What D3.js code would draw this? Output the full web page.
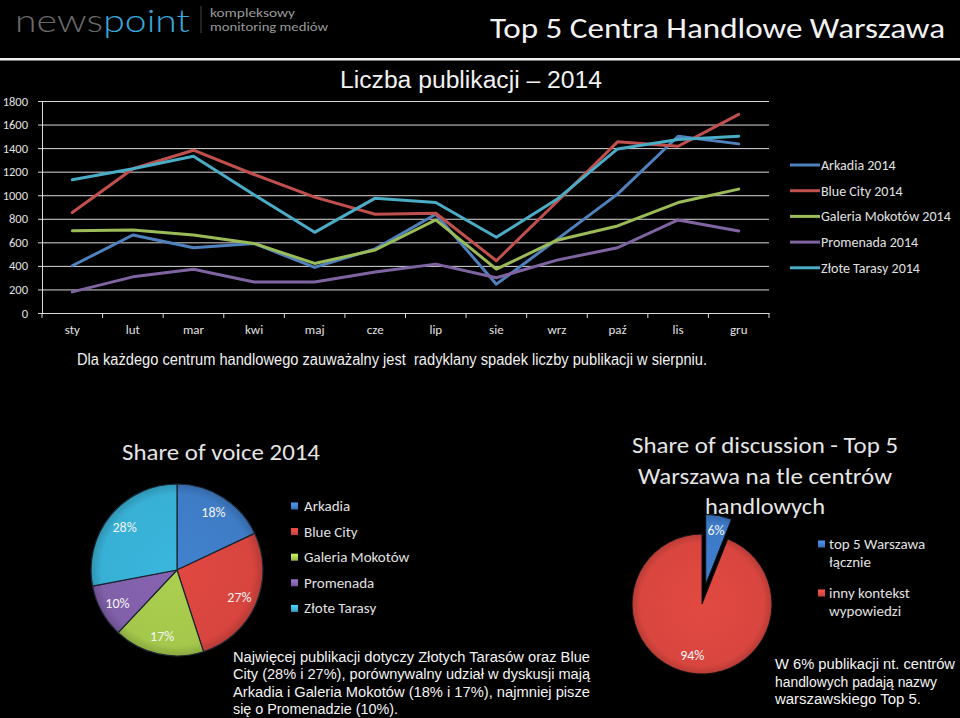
<!DOCTYPE html>
<html>
<head>
<meta charset="utf-8">
<script src="https://cdn.jsdelivr.net/npm/d3@7"></script>
<style>
  html, body { margin: 0; padding: 0; background: #000; }
  svg { display: block; }
</style>
</head>
<body>
<svg id="chart" width="960" height="718"></svg>
<script>
// ---------- DATA ----------
const months = ["sty","lut","mar","kwi","maj","cze","lip","sie","wrz","paź","lis","gru"];
const yTicks = [0,200,400,600,800,1000,1200,1400,1600,1800];
const seriesNames = ["Arkadia 2014","Blue City 2014","Galeria Mokotów 2014","Promenada 2014","Złote Tarasy 2014"];
const arkadia   = [401, 662, 554, 591, 387, 545, 839, 245, 625, 1009, 1501, 1436];
const blueCity  = [853, 1225, 1382, 1176, 984, 839, 847, 444, 945, 1453, 1416, 1686];
const galeria   = [699, 705, 662, 591, 421, 535, 790, 372, 618, 739, 938, 1052];
const promenada = [179, 307, 372, 264, 264, 348, 415, 299, 449, 554, 790, 697];
const zlote     = [1132, 1225, 1331, 1004, 685, 975, 938, 643, 965, 1393, 1473, 1501];
const lineColors = ["#4F81BD","#C0504D","#9BBB59","#8064A2","#4BACC6"];

const voiceNames  = ["Arkadia","Blue City","Galeria Mokotów","Promenada","Złote Tarasy"];
const voiceValues = [18, 27, 17, 10, 28];
const voiceColors = ["#3f7cc6","#d8453f","#a5c84c","#8160aa","#38b0d5"];

const discNames  = [["top 5 Warszawa","łącznie"],["inny kontekst","wypowiedzi"]];
const discValues = [6, 94];
const discColors = ["#3d7ac8","#d9463f"];

const lineCaption = "Dla każdego centrum handlowego zauważalny jest  radyklany spadek liczby publikacji w sierpniu.";
const voiceText = ["Najwięcej publikacji dotyczy Złotych Tarasów oraz Blue",
                   "City (28% i 27%), porównywalny udział w dyskusji mają",
                   "Arkadia i Galeria Mokotów (18% i 17%), najmniej pisze",
                   "się o Promenadzie (10%)."];
const discText = ["W 6% publikacji nt. centrów","handlowych padają nazwy","warszawskiego Top 5."];
const discTitle = ["Share of discussion - Top 5","Warszawa na tle centrów","handlowych"];

// ---------- SETUP ----------
const svg = d3.select("#chart");
const CAL = "Carlito, Lato, 'Open Sans', sans-serif";
const ARI = "'Liberation Sans', Arial, sans-serif";
const defs = svg.append("defs");
svg.append("rect").attr("width",960).attr("height",718).attr("fill","#000");

// ---------- HEADER ----------
const logo = svg.append("text").attr("x",15).attr("y",32)
  .style("font-family","Lato, sans-serif").style("font-weight",300).style("font-size","32px")
  .attr("textLength",175).attr("lengthAdjust","spacingAndGlyphs");
logo.append("tspan").attr("fill","#6a6a6a").text("news");
logo.append("tspan").attr("fill","#3aa7de").text("point");
svg.append("line").attr("x1",201).attr("x2",201).attr("y1",6).attr("y2",33)
  .attr("stroke","#444").attr("stroke-width",1);
svg.append("text").attr("x",210).attr("y",17).attr("fill","#9a9a9a")
  .style("font-family",CAL).style("font-size","12px")
  .attr("textLength",85).attr("lengthAdjust","spacingAndGlyphs").text("kompleksowy");
svg.append("text").attr("x",210).attr("y",31).attr("fill","#9a9a9a")
  .style("font-family",CAL).style("font-size","12px")
  .attr("textLength",118).attr("lengthAdjust","spacingAndGlyphs").text("monitoring mediów");
svg.append("text").attr("x",490).attr("y",38).attr("fill","#f2f2f2")
  .style("font-family",CAL).style("font-size","29px")
  .attr("textLength",455).attr("lengthAdjust","spacingAndGlyphs")
  .text("Top 5 Centra Handlowe Warszawa");
svg.append("rect").attr("x",0).attr("y",58).attr("width",960).attr("height",2.5).attr("fill","#f0f0f0");

// ---------- LINE CHART ----------
svg.append("text").attr("x",340).attr("y",88).attr("fill","#f2f2f2")
  .style("font-family",ARI).style("font-size","23px")
  .attr("textLength",262).attr("lengthAdjust","spacingAndGlyphs")
  .text("Liczba publikacji – 2014");

const x = d3.scaleBand().domain(months).range([42, 769]).padding(0);
const y = d3.scaleLinear().domain([0,1800]).range([313, 101]);

// gridlines
const grid = svg.append("g").attr("transform","translate(42,0)")
  .call(d3.axisLeft(y).tickValues(yTicks).tickSize(-(769-42)).tickFormat(""));
grid.select(".domain").remove();
grid.selectAll(".tick line").attr("stroke","#d9d9d9").attr("stroke-width",1);

// y axis
const yAx = svg.append("g").attr("transform","translate(42,0)")
  .call(d3.axisLeft(y).tickValues(yTicks).tickSize(4).tickPadding(10).tickFormat(d3.format("d")));
yAx.select(".domain").attr("stroke","#d9d9d9");
yAx.selectAll(".tick line").attr("stroke","#d9d9d9");
yAx.selectAll(".tick text").attr("fill","#e0e0e0").style("font-family",CAL).style("font-size","12.5px");

// x axis
const xAx = svg.append("g").attr("transform","translate(0,313)")
  .call(d3.axisBottom(x).tickSize(0).tickPadding(12));
xAx.select(".domain").attr("stroke","#d9d9d9");
xAx.selectAll(".tick text").attr("fill","#e0e0e0").style("font-family",CAL).style("font-size","13px");
const edges = months.map(m => x(m)).concat([x(months[months.length-1]) + x.bandwidth()]);
svg.append("g").selectAll("line").data(edges).join("line")
  .attr("x1",d=>d).attr("x2",d=>d).attr("y1",313).attr("y2",318)
  .attr("stroke","#d9d9d9");

const allSeries = [arkadia, blueCity, galeria, promenada, zlote];
const lineGen = d3.line().x((d,i)=>x(months[i]) + x.bandwidth()/2).y(d=>y(d));
svg.append("g").selectAll("path").data(allSeries).join("path")
  .attr("d", d=>lineGen(d)).attr("fill","none")
  .attr("stroke",(d,i)=>lineColors[i]).attr("stroke-width",3)
  .attr("stroke-linejoin","round").attr("stroke-linecap","round");

// legend
const lg = svg.append("g");
seriesNames.forEach((n,i)=>{
  const yy = 165 + i*25.7;
  lg.append("line").attr("x1",790).attr("x2",820).attr("y1",yy).attr("y2",yy)
    .attr("stroke",lineColors[i]).attr("stroke-width",3);
  lg.append("text").attr("x",821).attr("y",yy+5).attr("fill","#e0e0e0")
    .style("font-family",CAL).style("font-size","14px").text(n);
});

svg.append("text").attr("x",77).attr("y",365).attr("fill","#f0f0f0")
  .style("font-family","'Liberation Sans Narrow', " + ARI).style("font-size","16px")
  .attr("textLength",630).attr("lengthAdjust","spacingAndGlyphs")
  .attr("xml:space","preserve")
  .text(lineCaption);

// ---------- GRADIENTS (centred at 0,0 of each pie group) ----------
function sliceGrad(id, color, r){
  const g = defs.append("radialGradient").attr("id",id)
    .attr("gradientUnits","userSpaceOnUse").attr("cx",0).attr("cy",0).attr("r",r);
  const c = d3.color(color);
  g.append("stop").attr("offset","0%").attr("stop-color",c.brighter(0.1));
  g.append("stop").attr("offset","88%").attr("stop-color",c);
  g.append("stop").attr("offset","100%").attr("stop-color",c.darker(0.5));
}
function markerGrad(id, color){
  const g = defs.append("linearGradient").attr("id",id)
    .attr("x1","0").attr("y1","0").attr("x2","0").attr("y2","1");
  const c = d3.color(color);
  g.append("stop").attr("offset","0%").attr("stop-color",c.brighter(0.6));
  g.append("stop").attr("offset","100%").attr("stop-color",c.darker(0.3));
}

// ---------- PIE 1: Share of voice ----------
svg.append("text").attr("x",122).attr("y",460).attr("fill","#e6e6e6")
  .style("font-family",CAL).style("font-size","22px")
  .attr("textLength",198).attr("lengthAdjust","spacingAndGlyphs").text("Share of voice 2014");

const c1 = {x:177, y:570, r:86};
voiceColors.forEach((c,i)=>sliceGrad("v"+i, c, c1.r));
const pie = d3.pie().sort(null).value(d=>d);
const arcs1 = pie(voiceValues);
const arc1 = d3.arc().innerRadius(0).outerRadius(c1.r);
const labArc1 = d3.arc().innerRadius(68).outerRadius(68);
const p1 = svg.append("g").attr("transform",`translate(${c1.x},${c1.y})`);
p1.selectAll("path").data(arcs1).join("path")
  .attr("d",arc1).attr("fill",(d,i)=>`url(#v${i})`)
  .attr("stroke","#1b2430").attr("stroke-width",1.2);
p1.selectAll("text").data(arcs1).join("text")
  .attr("transform",d=>`translate(${labArc1.centroid(d)})`)
  .attr("text-anchor","middle").attr("dy","0.35em").attr("fill","#f4f4f4")
  .style("font-family",CAL).style("font-size","14px")
  .text(d=>d.data + "%");

voiceNames.forEach((n,i)=>{
  markerGrad("vm"+i, voiceColors[i]);
  const yy = 506 + i*25.6;
  svg.append("rect").attr("x",291).attr("y",yy-3.5).attr("width",7).attr("height",7)
    .attr("fill",`url(#vm${i})`);
  svg.append("text").attr("x",304).attr("y",yy+5).attr("fill","#e0e0e0")
    .style("font-family",CAL).style("font-size","15px").text(n);
});

voiceText.forEach((t,i)=>{
  svg.append("text").attr("x",233).attr("y",662 + i*17.4).attr("fill","#f4f4f4")
    .style("font-family",ARI).style("font-size","14px")
    .attr("textLength", i<3 ? 357 : 165).attr("lengthAdjust","spacingAndGlyphs").text(t);
});

// ---------- PIE 2: Share of discussion ----------
const titleW = [266, 254, 120];
discTitle.forEach((t,i)=>{
  svg.append("text").attr("x",765 - titleW[i]/2).attr("y",453 + i*30.7)
    .attr("fill","#e6e6e6").style("font-family",CAL).style("font-size","23px")
    .attr("textLength",titleW[i]).attr("lengthAdjust","spacingAndGlyphs").text(t);
});

const c2 = {x:702, y:604, r:70};
discColors.forEach((c,i)=>sliceGrad("d"+i, c, c2.r));
const arcs2 = pie(discValues);
const arc2 = d3.arc().innerRadius(0).outerRadius(c2.r);
const explode = [20, 0];
const labR2 = [55, 52];
const p2 = svg.append("g").attr("transform",`translate(${c2.x},${c2.y})`);
const sl2 = p2.selectAll("g").data(arcs2).join("g")
  .attr("transform",(d,i)=>{
    const a = (d.startAngle + d.endAngle)/2;
    return `translate(${Math.sin(a)*explode[i]},${-Math.cos(a)*explode[i]})`;
  });
sl2.append("path").attr("d",arc2).attr("fill",(d,i)=>`url(#d${i})`)
  .attr("stroke","#111").attr("stroke-width",1);
sl2.append("text")
  .attr("transform",(d,i)=>`translate(${d3.arc().innerRadius(labR2[i]).outerRadius(labR2[i]).centroid(d)})`)
  .attr("text-anchor","middle").attr("dy","0.35em").attr("fill","#f4f4f4")
  .style("font-family",CAL).style("font-size","14px")
  .text(d=>d.data + "%");

discNames.forEach((lines,i)=>{
  markerGrad("dm"+i, discColors[i]);
  const yy = 544 + i*49;
  svg.append("rect").attr("x",818).attr("y",yy-3.5).attr("width",7).attr("height",7)
    .attr("fill",`url(#dm${i})`);
  lines.forEach((l,j)=>{
    svg.append("text").attr("x",829).attr("y",yy+4.5 + j*18.5).attr("fill","#e0e0e0")
      .style("font-family",CAL).style("font-size","15px").text(l);
  });
});

discText.forEach((t,i)=>{
  svg.append("text").attr("x",775).attr("y",669 + i*17.5).attr("fill","#f4f4f4")
    .style("font-family",ARI).style("font-size","14px")
    .attr("textLength",[180,162,146][i]).attr("lengthAdjust","spacingAndGlyphs").text(t);
});
</script>
</body>
</html>
